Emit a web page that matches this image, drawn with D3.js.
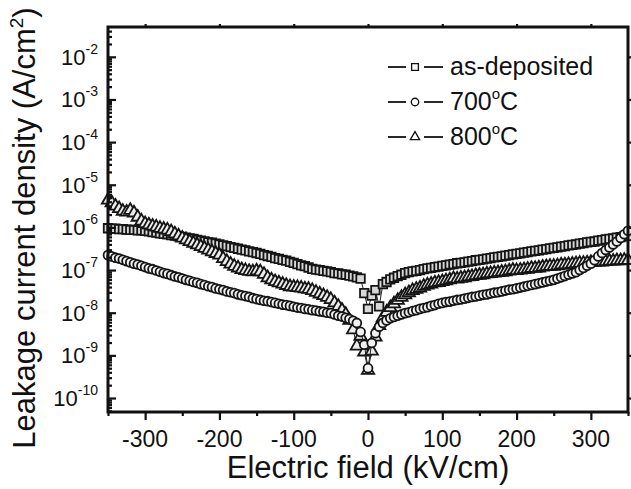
<!DOCTYPE html>
<html>
<head>
<meta charset="utf-8">
<script src="https://cdn.jsdelivr.net/npm/d3@7"></script>
<style>
  html, body { margin: 0; padding: 0; background: #fff; }
  text { font-family: "Liberation Sans", Arial, Helvetica, sans-serif; fill: #111; }
</style>
</head>
<body>
<div id="chart"></div>
<script>
// electric field sweep (kV/cm)
var field = [
  -350, -345, -340, -335, -330, -325, -320, -315, -310, -305,
  -300, -295, -290, -285, -280, -275, -270, -265, -260, -255,
  -250, -245, -240, -235, -230, -225, -220, -215, -210, -205,
  -200, -195, -190, -185, -180, -175, -170, -165, -160, -155,
  -150, -145, -140, -135, -130, -125, -120, -115, -110, -105,
  -100, -95, -90, -85, -80, -75, -70, -65, -60, -55,
  -50, -45, -40, -35, -30, -25, -20, -15, -10, -5,
  0, 5, 10, 15, 20, 25, 30, 35, 40, 45,
  50, 55, 60, 65, 70, 75, 80, 85, 90, 95,
  100, 105, 110, 115, 120, 125, 130, 135, 140, 145,
  150, 155, 160, 165, 170, 175, 180, 185, 190, 195,
  200, 205, 210, 215, 220, 225, 230, 235, 240, 245,
  250, 255, 260, 265, 270, 275, 280, 285, 290, 295,
  300, 305, 310, 315, 320, 325, 330, 335, 340, 345,
  350
];

// log10 of leakage current density (A/cm2)
var logAsDeposited = [
  -6.02, -6.03, -6.03, -6.04, -6.04, -6.05, -6.06, -6.06, -6.07, -6.07,
  -6.08, -6.09, -6.11, -6.12, -6.14, -6.15, -6.16, -6.18, -6.19, -6.21,
  -6.22, -6.24, -6.26, -6.27, -6.29, -6.31, -6.33, -6.35, -6.36, -6.38,
  -6.40, -6.42, -6.44, -6.46, -6.48, -6.50, -6.52, -6.54, -6.56, -6.58,
  -6.60, -6.62, -6.65, -6.67, -6.69, -6.72, -6.74, -6.76, -6.78, -6.81,
  -6.83, -6.86, -6.89, -6.91, -6.94, -6.97, -6.99, -7.00, -7.02, -7.03,
  -7.05, -7.07, -7.08, -7.10, -7.11, -7.13, -7.15, -7.17, -7.20, -7.54,
  -7.91, -7.60, -7.47, -7.85, -7.33, -7.28, -7.22, -7.18, -7.14, -7.11,
  -7.07, -7.05, -7.03, -7.02, -7.00, -6.98, -6.96, -6.95, -6.93, -6.92,
  -6.90, -6.89, -6.87, -6.86, -6.84, -6.83, -6.82, -6.80, -6.79, -6.77,
  -6.76, -6.75, -6.73, -6.72, -6.70, -6.69, -6.68, -6.66, -6.65, -6.63,
  -6.62, -6.61, -6.59, -6.58, -6.56, -6.55, -6.54, -6.52, -6.51, -6.49,
  -6.48, -6.47, -6.45, -6.44, -6.42, -6.41, -6.40, -6.38, -6.37, -6.35,
  -6.34, -6.33, -6.31, -6.30, -6.28, -6.27, -6.26, -6.24, -6.23, -6.21,
  -6.20
];

var log700 = [
  -6.65, -6.68, -6.71, -6.73, -6.76, -6.79, -6.82, -6.85, -6.87, -6.90,
  -6.93, -6.96, -6.98, -7.01, -7.04, -7.07, -7.09, -7.12, -7.15, -7.17,
  -7.20, -7.23, -7.25, -7.28, -7.30, -7.33, -7.35, -7.38, -7.40, -7.43,
  -7.45, -7.47, -7.50, -7.52, -7.54, -7.57, -7.59, -7.61, -7.63, -7.66,
  -7.68, -7.70, -7.72, -7.73, -7.75, -7.77, -7.79, -7.81, -7.82, -7.84,
  -7.86, -7.88, -7.89, -7.91, -7.92, -7.94, -7.95, -7.97, -7.98, -8.00,
  -8.01, -8.04, -8.07, -8.09, -8.12, -8.15, -8.19, -8.24, -8.45, -8.75,
  -9.30, -8.71, -8.48, -8.33, -8.24, -8.18, -8.13, -8.10, -8.07, -8.04,
  -8.01, -7.99, -7.96, -7.94, -7.91, -7.89, -7.87, -7.84, -7.82, -7.79,
  -7.77, -7.75, -7.74, -7.72, -7.70, -7.69, -7.67, -7.65, -7.63, -7.62,
  -7.60, -7.58, -7.57, -7.55, -7.53, -7.52, -7.50, -7.48, -7.46, -7.45,
  -7.43, -7.41, -7.39, -7.37, -7.35, -7.33, -7.31, -7.29, -7.27, -7.25,
  -7.23, -7.20, -7.17, -7.14, -7.11, -7.08, -7.05, -7.00, -6.95, -6.90,
  -6.85, -6.77, -6.68, -6.60, -6.53, -6.47, -6.40, -6.33, -6.25, -6.16,
  -6.08
];

var log800 = [
  -5.36, -5.42, -5.50, -5.56, -5.62, -5.64, -5.60, -5.66, -5.76, -5.85,
  -5.91, -5.94, -5.97, -5.99, -6.02, -6.04, -6.06, -6.10, -6.15, -6.20,
  -6.25, -6.29, -6.33, -6.37, -6.41, -6.45, -6.49, -6.53, -6.57, -6.61,
  -6.65, -6.73, -6.80, -6.86, -6.91, -6.95, -6.99, -7.01, -7.03, -7.04,
  -7.02, -7.04, -7.10, -7.18, -7.23, -7.27, -7.30, -7.33, -7.36, -7.39,
  -7.40, -7.41, -7.42, -7.44, -7.45, -7.48, -7.52, -7.56, -7.60, -7.64,
  -7.69, -7.77, -7.85, -7.94, -8.04, -8.18, -8.40, -8.78, -8.55, -8.92,
  -9.35, -8.90, -8.57, -8.30, -8.12, -7.99, -7.88, -7.79, -7.71, -7.64,
  -7.58, -7.53, -7.48, -7.45, -7.42, -7.38, -7.35, -7.33, -7.30, -7.29,
  -7.27, -7.25, -7.23, -7.20, -7.21, -7.19, -7.18, -7.16, -7.15, -7.13,
  -7.12, -7.11, -7.09, -7.08, -7.07, -7.06, -7.05, -7.04, -7.02, -7.00,
  -7.01, -7.00, -6.99, -6.98, -6.96, -6.96, -6.95, -6.93, -6.92, -6.91,
  -6.91, -6.90, -6.88, -6.88, -6.87, -6.86, -6.85, -6.84, -6.84, -6.83,
  -6.82, -6.82, -6.81, -6.81, -6.80, -6.79, -6.79, -6.78, -6.78, -6.77,
  -6.77
];

var seriesNames = ["as-deposited", "700", "800"];
var xMajorTicks = [-300, -200, -100, 0, 100, 200, 300];
var xMinorTicks = [-350, -250, -150, -50, 50, 150, 250, 350];
var yDecades = [-10, -9, -8, -7, -6, -5, -4, -3, -2];
var yMin = 4.7e-11, yMax = 0.05;

var width = 631, height = 489;
var margin = {top: 27, right: 3, bottom: 77, left: 108};

var svg = d3.select("#chart").append("svg")
  .attr("width", width)
  .attr("height", height);

var x = d3.scaleLinear()
  .domain([-350, 350])
  .range([margin.left, width - margin.right]);

var y = d3.scaleLog()
  .domain([yMin, yMax])
  .range([height - margin.bottom, margin.top]);

function toPoints(logs) {
  return field.map(function (e, i) { return {e: e, j: Math.pow(10, logs[i])}; });
}

var series = [
  {name: seriesNames[0], data: toPoints(logAsDeposited), symbol: d3.symbolSquare, size: 72, fill: "#d8d8d8"},
  {name: seriesNames[2], data: toPoints(log800), symbol: d3.symbolTriangle, size: 66, fill: "#ececec"},
  {name: seriesNames[1], data: toPoints(log700), symbol: d3.symbolCircle, size: 62, fill: "#f2f2f2"}
];

var line = d3.line()
  .x(function (d) { return x(d.e); })
  .y(function (d) { return y(d.j); });

// data
series.forEach(function (s) {
  var g = svg.append("g").attr("class", "series");
  g.append("path")
    .datum(s.data)
    .attr("d", line)
    .attr("fill", "none")
    .attr("stroke", "#222")
    .attr("stroke-width", 1);
  g.selectAll("path.pt")
    .data(s.data)
    .enter().append("path")
    .attr("class", "pt")
    .attr("transform", function (d) { return "translate(" + x(d.e) + "," + y(d.j) + ")"; })
    .attr("d", d3.symbol().type(s.symbol).size(s.size))
    .attr("fill", s.fill)
    .attr("stroke", "#151515")
    .attr("stroke-width", 1.8);
});

// axes: bottom ticks point out, left ticks point in
var yMinor = [];
yDecades.concat([-11]).forEach(function (p) {
  for (var k = 2; k <= 9; k++) {
    var v = k * Math.pow(10, p);
    if (v > yMin && v < yMax) yMinor.push(v);
  }
});
var yMajor = yDecades.map(function (p) { return Math.pow(10, p); });

function styleAxis(g) {
  g.select(".domain").remove();
  g.selectAll("line").attr("stroke", "#111").attr("stroke-width", 2.2);
  g.selectAll("text").remove();
}

svg.append("g")
  .attr("transform", "translate(0," + (height - margin.bottom) + ")")
  .call(d3.axisBottom(x).tickValues(xMajorTicks).tickSize(8))
  .call(styleAxis);
svg.append("g")
  .attr("transform", "translate(0," + (height - margin.bottom) + ")")
  .call(d3.axisBottom(x).tickValues(xMinorTicks).tickSize(4))
  .call(styleAxis);
svg.append("g")
  .attr("transform", "translate(0," + margin.top + ")")
  .call(d3.axisTop(x).tickValues(xMajorTicks).tickSize(3))
  .call(styleAxis);

svg.append("g")
  .attr("transform", "translate(" + margin.left + ",0)")
  .call(d3.axisLeft(y).tickValues(yMajor).tickSize(-8))
  .call(styleAxis);
svg.append("g")
  .attr("transform", "translate(" + margin.left + ",0)")
  .call(d3.axisLeft(y).tickValues(yMinor).tickSize(-4))
  .call(styleAxis);
svg.append("g")
  .attr("transform", "translate(" + (width - margin.right) + ",0)")
  .call(d3.axisRight(y).tickValues(yMajor).tickSize(3))
  .call(styleAxis);

// frame
svg.append("rect")
  .attr("x", margin.left)
  .attr("y", margin.top)
  .attr("width", width - margin.left - margin.right)
  .attr("height", height - margin.top - margin.bottom)
  .attr("fill", "none")
  .attr("stroke", "#111")
  .attr("stroke-width", 3);

// tick labels
svg.selectAll("text.xlab")
  .data(xMajorTicks)
  .enter().append("text")
  .attr("class", "xlab")
  .attr("x", function (d) { return x(d); })
  .attr("y", 447)
  .attr("text-anchor", "middle")
  .attr("font-size", 23)
  .text(function (d) { return d < 0 ? "-" + Math.abs(d) : String(d); });

var ylab = svg.selectAll("text.ylab")
  .data(yDecades)
  .enter().append("text")
  .attr("class", "ylab")
  .attr("x", 98)
  .attr("y", function (d) { return y(Math.pow(10, d)) + 8; })
  .attr("text-anchor", "end")
  .attr("font-size", 22);
ylab.append("tspan").text("10");
ylab.append("tspan")
  .attr("font-size", 14)
  .attr("dy", -11)
  .text(function (d) { return "-" + Math.abs(d); });

// axis titles
svg.append("text")
  .attr("x", x(0))
  .attr("y", 478)
  .attr("text-anchor", "middle")
  .attr("font-size", 31)
  .text("Electric field (kV/cm)");

var yt = svg.append("text")
  .attr("transform", "translate(35,228) rotate(-90)")
  .attr("text-anchor", "middle")
  .attr("font-size", 31);
yt.append("tspan").text("Leakage current density (A/cm");
yt.append("tspan").attr("font-size", 19).attr("dy", -12).text("2");
yt.append("tspan").attr("dy", 12).text(")");

// legend
var legendRows = [
  {label: seriesNames[0], symbol: d3.symbolSquare, size: 46, deg: false},
  {label: seriesNames[1], symbol: d3.symbolCircle, size: 44, deg: true},
  {label: seriesNames[2], symbol: d3.symbolTriangle, size: 38, deg: true}
];
var legend = svg.append("g").attr("class", "legend");
legendRows.forEach(function (r, i) {
  var cy = 67 + i * 35;
  var g = legend.append("g");
  g.append("line").attr("x1", 388).attr("x2", 406).attr("y1", cy).attr("y2", cy)
    .attr("stroke", "#111").attr("stroke-width", 1.8);
  g.append("line").attr("x1", 424).attr("x2", 443).attr("y1", cy).attr("y2", cy)
    .attr("stroke", "#111").attr("stroke-width", 1.8);
  g.append("path")
    .attr("transform", "translate(415," + cy + ")")
    .attr("d", d3.symbol().type(r.symbol).size(r.size))
    .attr("fill", "#fff").attr("stroke", "#111").attr("stroke-width", 1.3);
  var t = g.append("text").attr("x", 450).attr("y", cy + 8).attr("font-size", 25);
  if (r.deg) {
    t.append("tspan").text(r.label);
    t.append("tspan").attr("font-size", 15).attr("dy", -11).text("o");
    t.append("tspan").attr("dy", 11).text("C");
  } else {
    t.text(r.label);
  }
});
</script>
</body>
</html>
